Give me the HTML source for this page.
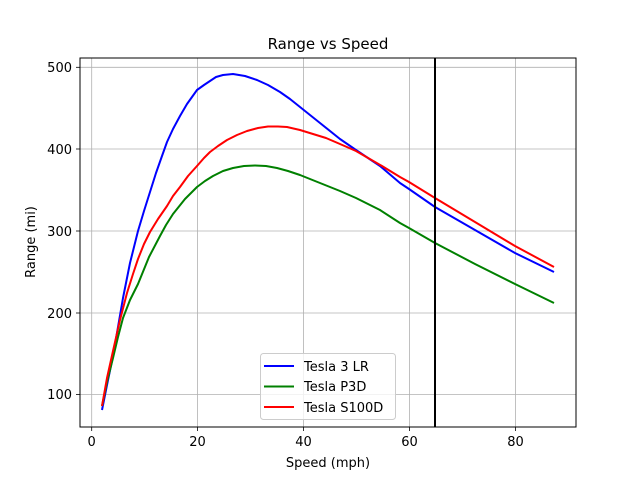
<!DOCTYPE html>
<html><head><style>body{margin:0;background:#fff}</style></head><body>
<svg width="640" height="480" xmlns="http://www.w3.org/2000/svg" font-family="DejaVu Sans, sans-serif">
<rect width="640" height="480" fill="#fff"/>
<g stroke="#b0b0b0" stroke-width="0.8">
<line x1="91.7" y1="58" x2="91.7" y2="427"/><line x1="197.5" y1="58" x2="197.5" y2="427"/><line x1="303.5" y1="58" x2="303.5" y2="427"/><line x1="409.5" y1="58" x2="409.5" y2="427"/><line x1="515.5" y1="58" x2="515.5" y2="427"/>
<line x1="80" y1="67.3" x2="576" y2="67.3"/><line x1="80" y1="149" x2="576" y2="149"/><line x1="80" y1="231" x2="576" y2="231"/><line x1="80" y1="313" x2="576" y2="313"/><line x1="80" y1="394.5" x2="576" y2="394.5"/>
</g>
<g fill="none" stroke-width="2" stroke-linejoin="round">
<polyline stroke="#0000ff" points="102,410 107,385 113,356 118,327 123,298 130,263 138,231 144,211 150,192 156,173 162,156 167,142 173,129 180,116 187,104 197,90 204,85 210,81 216,77 223,75 233,74 245,76 257,80 268,85 280,92 290,99 300,107 320,123 340,139 356,150 380,166 400,183 409,189 435,207 475,230 515,253 554,272"/>
<polyline stroke="#008000" points="102,406 107,382 113,358 118,337 123,318 130,300 138,284 149,257 160,236 166,225 173,214 185,199 197,187 205,181 213,176 223,171 233,168 244,166 255,165.5 266,166 277,168 288,171 300,175 320,183 340,191 356,198 380,210 400,223 409,228 435,243 475,264 515,284 554,303"/>
<polyline stroke="#ff0000" points="102,406 107,378 113,351 120,320 127,293 133,274 138,259 144,244 150,232 158,219 167,206 173,196 180,187 188,176 197,166 204,158 210,152 218,146 227,140 237,135 247,131 258,128 268,126.5 278,126.5 287,127 300,130 313,134 326,138 340,144 356,151 382,166 400,177 409,182 435,198 475,222 515,246 554,267"/>
</g>
<line x1="435" y1="58" x2="435" y2="427" stroke="#000" stroke-width="2"/>
<rect x="80" y="58" width="496" height="369" fill="none" stroke="#000" stroke-width="1"/>
<g stroke="#000" stroke-width="0.8">
<line x1="91.7" y1="427" x2="91.7" y2="431"/><line x1="197.5" y1="427" x2="197.5" y2="431"/><line x1="303.5" y1="427" x2="303.5" y2="431"/><line x1="409.5" y1="427" x2="409.5" y2="431"/><line x1="515.5" y1="427" x2="515.5" y2="431"/>
<line x1="76" y1="67.3" x2="80" y2="67.3"/><line x1="76" y1="149" x2="80" y2="149"/><line x1="76" y1="231" x2="80" y2="231"/><line x1="76" y1="313" x2="80" y2="313"/><line x1="76" y1="394.5" x2="80" y2="394.5"/>
</g>
<g font-size="13" fill="#000" text-anchor="middle">
<text x="91.7" y="446">0</text><text x="197.5" y="446">20</text><text x="303.5" y="446">40</text><text x="409.5" y="446">60</text><text x="515.5" y="446">80</text>
<text x="328" y="467">Speed (mph)</text>
<text x="328" y="49" font-size="15">Range vs Speed</text>
</g>
<g font-size="13" fill="#000" text-anchor="end">
<text x="72" y="72">500</text><text x="72" y="154">400</text><text x="72" y="236">300</text><text x="72" y="318">200</text><text x="72" y="399">100</text>
</g>
<text transform="translate(35,242) rotate(-90)" font-size="13" text-anchor="middle">Range (mi)</text>
<rect x="260.5" y="353.5" width="135" height="66" rx="3" fill="#fff" fill-opacity="0.8" stroke="#ccc"/>
<line x1="264" y1="366" x2="294" y2="366" stroke="#0000ff" stroke-width="2"/>
<line x1="264" y1="386.5" x2="294" y2="386.5" stroke="#008000" stroke-width="2"/>
<line x1="264" y1="407" x2="294" y2="407" stroke="#ff0000" stroke-width="2"/>
<g font-size="13" fill="#000">
<text x="304" y="371">Tesla 3 LR</text><text x="304" y="391">Tesla P3D</text><text x="304" y="412">Tesla S100D</text>
</g>
</svg>
</body></html>
